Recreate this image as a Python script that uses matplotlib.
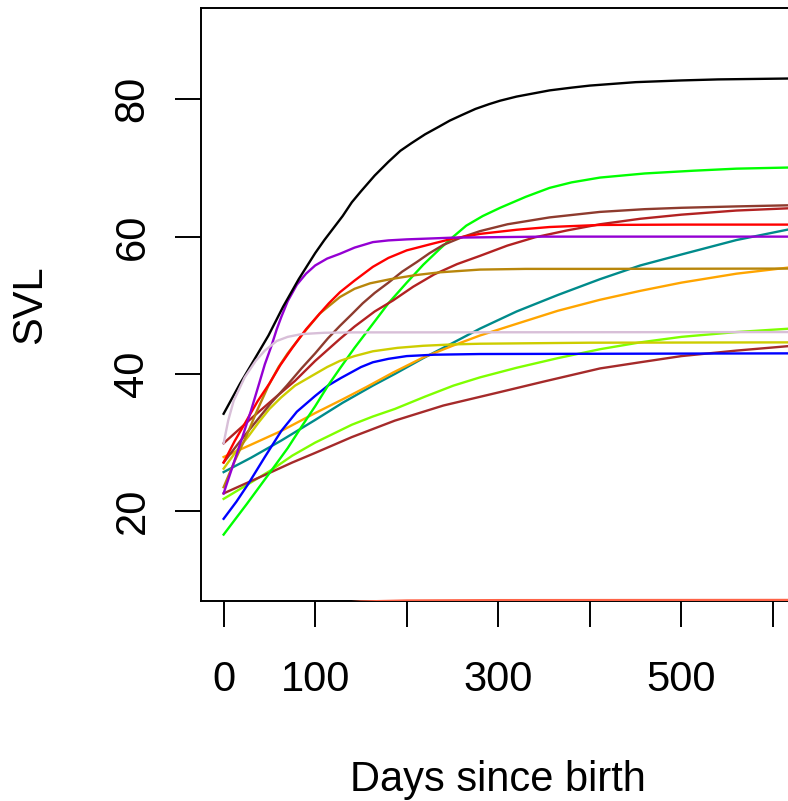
import matplotlib
matplotlib.use("Agg")
import matplotlib.pyplot as plt

plt.rcParams['font.family'] = ['Liberation Sans', 'DejaVu Sans']

# fitted growth curves, SVL by age (days since birth)
black_days = [0, 18, 30, 49, 65, 82, 100, 110, 122, 130, 140, 150, 165, 180, 193, 205, 220, 235,
              247, 260, 275, 290, 302, 320, 340, 356, 380, 400, 450, 500, 540, 630]
black_svl = [34.2, 38.6, 41.3, 45.6, 49.8, 53.8, 57.6, 59.5, 61.6, 63.0, 65.0, 66.6, 68.9, 70.9,
             72.5, 73.6, 74.9, 76.0, 76.9, 77.7, 78.6, 79.3, 79.8, 80.4, 80.9, 81.3, 81.7, 82.0,
             82.5, 82.75, 82.9, 83.05]

green_days = [0, 25, 52, 70, 85, 100, 114, 127, 143, 163, 180, 200, 218, 236, 250, 265, 283, 302,
              330, 356, 380, 411, 460, 513, 560, 630]
green_svl = [16.6, 21.0, 25.9, 29.2, 32.3, 35.3, 38.3, 40.8, 43.8, 47.3, 50.3, 53.3, 55.9, 58.2,
             59.9, 61.6, 63.0, 64.2, 65.8, 67.1, 67.9, 68.6, 69.2, 69.6, 69.9, 70.1]

purple_days = [0, 10, 20, 30, 39, 45, 52, 58, 63, 70, 80, 90, 100, 113, 127, 143, 163, 180, 200,
               250, 350, 630]
purple_svl = [22.6, 26.6, 30.6, 34.7, 38.7, 41.4, 44.0, 46.5, 48.3, 50.6, 53.0, 54.6, 55.8, 56.8,
              57.5, 58.4, 59.2, 59.45, 59.6, 59.85, 60.0, 60.0]

red_days = [0, 12, 25, 37, 50, 62, 75, 90, 105, 115, 127, 143, 163, 180, 200, 229, 250, 280, 320,
            356, 411, 500, 630]
red_svl = [27.1, 30.2, 33.2, 36.0, 38.6, 41.3, 43.8, 46.5, 48.8, 50.3, 51.9, 53.6, 55.6, 56.9,
           58.0, 59.0, 59.7, 60.4, 61.0, 61.4, 61.7, 61.75, 61.75]

sienna_days = [0, 18, 35, 52, 69, 85, 100, 114, 127, 140, 152, 165, 180, 195, 211, 225, 240, 260,
               280, 310, 356, 411, 460, 500, 560, 630]
sienna_svl = [27.1, 30.2, 33.0, 35.8, 38.3, 40.8, 43.0, 45.2, 47.0, 48.7, 50.3, 51.8, 53.3, 54.9,
              56.3, 57.6, 58.8, 59.9, 60.8, 61.8, 62.8, 63.6, 64.0, 64.2, 64.4, 64.6]

firebrick_days = [0, 30, 55, 78, 100, 127, 143, 165, 185, 207, 230, 255, 280, 310, 340, 375, 411,
                  455, 500, 560, 630]
firebrick_svl = [29.9, 33.5, 36.4, 39.0, 41.9, 45.1, 46.9, 49.1, 50.7, 52.7, 54.5, 56.0, 57.2,
                 58.7, 59.9, 60.9, 61.8, 62.6, 63.2, 63.8, 64.2]

gold_days = [0, 12, 25, 37, 49, 60, 70, 85, 105, 127, 143, 160, 182, 210, 236, 280, 330, 400, 630]
gold_svl = [23.5, 27.3, 31.0, 34.8, 38.3, 41.0, 43.0, 45.6, 48.8, 51.2, 52.4, 53.2, 53.8, 54.4,
            54.8, 55.2, 55.3, 55.3, 55.35]

thistle_days = [0, 5, 11, 23, 35, 45, 58, 70, 85, 110, 143, 630]
thistle_svl = [29.9, 33.2, 36.1, 39.5, 41.9, 43.4, 44.8, 45.4, 45.8, 46.0, 46.05, 46.1]

yellow_days = [0, 13, 27, 38, 50, 63, 78, 100, 113, 127, 143, 163, 190, 218, 250, 280, 400, 630]
yellow_svl = [26.2, 28.6, 30.9, 32.9, 34.9, 36.6, 38.3, 40.0, 41.0, 41.9, 42.6, 43.3, 43.8, 44.1,
              44.3, 44.4, 44.55, 44.6]

blue_days = [0, 14, 27, 45, 63, 80, 100, 114, 128, 150, 163, 180, 200, 230, 280, 630]
blue_svl = [18.9, 21.4, 24.0, 27.9, 31.7, 34.5, 36.8, 38.3, 39.4, 41.0, 41.7, 42.2, 42.6, 42.8,
            42.9, 43.0]

lawn_days = [0, 25, 52, 75, 100, 120, 140, 163, 187, 220, 251, 280, 320, 365, 411, 455, 500, 560, 630]
lawn_svl = [21.8, 23.8, 26.0, 28.1, 30.0, 31.3, 32.6, 33.8, 34.9, 36.7, 38.3, 39.5, 40.9, 42.3,
            43.6, 44.6, 45.4, 46.1, 46.7]

brown_days = [0, 25, 52, 75, 100, 140, 187, 240, 300, 350, 411, 455, 500, 560, 630]
brown_svl = [22.6, 24.1, 25.7, 27.1, 28.5, 30.8, 33.2, 35.4, 37.3, 38.9, 40.8, 41.7, 42.6, 43.4, 44.2]

orange_days = [0, 30, 63, 100, 130, 156, 185, 218, 250, 280, 320, 365, 411, 455, 500, 560, 630]
orange_svl = [27.9, 29.7, 31.7, 34.3, 36.3, 38.1, 40.2, 42.4, 44.1, 45.6, 47.3, 49.2, 50.8, 52.1,
              53.3, 54.6, 55.7]

teal_days = [0, 30, 63, 100, 130, 163, 187, 218, 250, 280, 320, 365, 411, 455, 500, 560, 630]
teal_svl = [25.7, 27.8, 30.3, 33.3, 35.8, 38.3, 40.0, 42.3, 44.5, 46.6, 49.1, 51.5, 53.8, 55.8,
            57.4, 59.5, 61.4]

tomato_days = [0, 100, 150, 200, 300, 630]
tomato_svl = [5.0, 6.4, 6.85, 7.0, 7.05, 7.08]

curves = [
    (tomato_days, tomato_svl, 'tomato'),
    (lawn_days, lawn_svl, '#7FFF00'),
    (brown_days, brown_svl, '#A52A2A'),
    (teal_days, teal_svl, '#008B8B'),
    (orange_days, orange_svl, '#FFA500'),
    (blue_days, blue_svl, '#0000FF'),
    (green_days, green_svl, '#00FF00'),
    (yellow_days, yellow_svl, '#CDCD00'),
    (firebrick_days, firebrick_svl, '#B22222'),
    (sienna_days, sienna_svl, '#8E3B2E'),
    (gold_days, gold_svl, '#B8860B'),
    (red_days, red_svl, '#FF0000'),
    (purple_days, purple_svl, '#9400D3'),
    (black_days, black_svl, 'black'),
    (thistle_days, thistle_svl, '#D8BFD8'),
]

fig = plt.figure(figsize=(7.88, 8.01), dpi=100)
ax = fig.add_axes([201 / 788, 1 - 600.5 / 801, 594 / 788, 592.5 / 801])

for d, s, c in curves:
    ax.plot(d, s, color=c, lw=1.7, zorder=3, solid_joinstyle='round')

ax.set_xlim(-24.7, 624)
ax.set_ylim(7.0, 93.3)

for sp in ax.spines.values():
    sp.set_linewidth(1.4)

xticks = [0, 100, 200, 300, 400, 500, 600]
xlabels = ['0', '100', '', '300', '', '500', '']
yticks = [20, 40, 60, 80]
ax.set_xticks(xticks)
ax.set_xticklabels(xlabels)
ax.set_yticks(yticks)
ax.set_yticklabels([str(v) for v in yticks], rotation=90, va='center')

ax.tick_params(axis='both', direction='out', length=19, width=1.4, labelsize=30)
ax.tick_params(axis='x', pad=24)
ax.tick_params(axis='y', pad=16)

ax.set_xlabel('Days since birth', fontsize=30, labelpad=43)
ax.set_ylabel('SVL', fontsize=30, labelpad=45)

fig.savefig('out.png', dpi=100)
